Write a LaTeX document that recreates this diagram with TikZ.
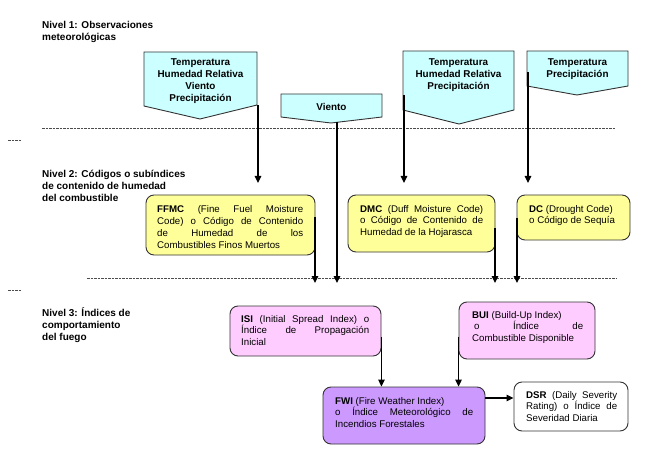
\documentclass[tikz,border=0pt]{standalone}
\usepackage{fontspec}
\setmainfont{Liberation Sans}
\usetikzlibrary{arrows.meta}
\definecolor{callfill}{HTML}{CCFFFF}
\definecolor{yelfill}{HTML}{FFFF99}
\definecolor{pinkfill}{HTML}{FFCCFF}
\definecolor{purpfill}{HTML}{CC99FF}
\definecolor{edge}{HTML}{333333}
\newcommand\jline[1]{\makebox[\linewidth][s]{#1}}
\tikzset{
  callout/.style={draw=edge, line width=0.9pt, fill=callfill, line join=miter},
  boxnode/.style={draw=edge, line width=0.9pt, rounded corners=8pt, inner sep=0pt},
  txt/.style={inner sep=0pt, anchor=base west, font=\fontsize{9.7}{11.8}\selectfont},
  calltxt/.style={inner sep=0pt, anchor=base, font=\fontsize{9.9}{11.8}\selectfont\bfseries},
  lvltxt/.style={inner sep=0pt, anchor=base west, font=\fontsize{10}{12}\selectfont\bfseries},
  arr/.style={line width=1.1pt, -{Triangle[width=6.5pt,length=7pt]}},
  sep/.style={draw=black!70, line width=0.6pt, dash pattern=on 2.5pt off 1pt}
}
\begin{document}
\begin{tikzpicture}[x=1pt,y=-1pt]
\useasboundingbox (0,0) rectangle (661,457);

% separators
\draw[sep] (42,128) -- (616,128);
\draw[sep] (87,278) -- (616,278);
\draw[sep] (8,140) -- (22,140);
\draw[sep] (8,290) -- (22,290);

% level labels
\node[lvltxt] (n1) at (42,29) {\parbox[t]{200pt}{Nivel 1: Observaciones\\meteorológicas}};
\node[lvltxt] (n2) at (42,178) {\parbox[t]{200pt}{Nivel 2: Códigos o subíndices\\de contenido de humedad\\del combustible}};
\node[lvltxt] (n3) at (42,316) {\parbox[t]{200pt}{Nivel 3: Índices de\\comportamiento\\del fuego}};

% callouts
\draw[callout] (144,52) -- (257,52) -- (257,105) -- (200,119) -- (144,106) -- cycle;
\node[calltxt] (c1) at (200.5,66) {\parbox[t]{120pt}{\centering Temperatura\\Humedad Relativa\\Viento\\Precipitación}};
\draw[callout] (281,94) -- (382,94) -- (382,117) -- (331,123) -- (281,117) -- cycle;
\node[calltxt] (c2) at (331.5,111) {\parbox[t]{100pt}{\centering Viento}};
\draw[callout] (403,51) -- (514,51) -- (514,110) -- (459,124) -- (403,110) -- cycle;
\node[calltxt] (c3) at (458.5,66) {\parbox[t]{120pt}{\centering Temperatura\\Humedad Relativa\\Precipitación}};
\draw[callout] (527,51) -- (628,51) -- (628,86) -- (577,95) -- (527,86) -- cycle;
\node[calltxt] (c4) at (577.5,66) {\parbox[t]{100pt}{\centering Temperatura\\Precipitación}};

\coordinate (c1s) at (258,105);
\coordinate (c2s) at (337,122);
\coordinate (c3s) at (404,95);
\coordinate (c4s) at (528,72);

% level 2 boxes
\node[boxnode, fill=yelfill, minimum width=169pt, minimum height=60pt] (ffmc) at (230.5,225) {};
\node[txt] (ffmct) at (157,213) {\parbox[t]{146pt}{%
\jline{\textbf{FFMC} (Fine Fuel Moisture}\\
\jline{Code) o Código de Contenido}\\
\jline{de Humedad de los}\\
Combustibles Finos Muertos}};
\node[boxnode, fill=yelfill, minimum width=147pt, minimum height=57pt] (dmc) at (421.5,223.5) {};
\node[txt] (dmct) at (360,212) {\parbox[t]{123pt}{%
\jline{\textbf{DMC} (Duff Moisture Code)}\\
\jline{o Código de Contenido de}\\
Humedad de la Hojarasca}};
\node[boxnode, fill=yelfill, minimum width=113pt, minimum height=45pt] (dc) at (573.5,217.5) {};
\node[txt] (dct) at (529,212) {\parbox[t]{95pt}{%
\textbf{DC} (Drought Code)\\
o Código de Sequía}};

% level 3 boxes
\node[boxnode, fill=pinkfill, minimum width=151pt, minimum height=50pt] (isi) at (305.5,331) {};
\node[txt] (isit) at (241,322) {\parbox[t]{128pt}{%
\jline{\textbf{ISI} (Initial Spread Index) o}\\
\jline{Índice de Propagación}\\
Inicial}};
\node[boxnode, fill=pinkfill, minimum width=136pt, minimum height=57pt] (bui) at (527,330.5) {};
\node[txt] (buit) at (472,318) {\parbox[t]{111pt}{%
\textbf{BUI} (Build-Up Index)\\
\jline{\hspace*{2pt}o Índice de}\\
Combustible Disponible}};
\node[boxnode, fill=purpfill, minimum width=162pt, minimum height=57pt] (fwi) at (404,415.5) {};
\node[txt] (fwit) at (335,404) {\parbox[t]{138pt}{%
\textbf{FWI} (Fire Weather Index)\\
\jline{o Índice Meteorológico de}\\
Incendios Forestales}};
\node[boxnode, fill=white, minimum width=114pt, minimum height=49pt] (dsr) at (571,406.5) {};
\node[txt] (dsrt) at (526,398) {\parbox[t]{91pt}{%
\jline{\textbf{DSR} (Daily Severity}\\
\jline{Rating) o Índice de}\\
Severidad Diaria}};

% connectors
\coordinate (ffmcs) at (315,217);
\coordinate (dmcs) at (495,228);
\coordinate (dcs) at (517,218);
\coordinate (isis) at ([yshift=-6pt]isi.east);
\coordinate (buis) at ([yshift=-6pt]bui.west);
\coordinate (fwis) at ([yshift=17.5pt]fwi.east);
\draw[arr] (c1s) -- (c1s |- 0,183);
\draw[arr] (c3s) -- (c3s |- 0,183);
\draw[arr] (c4s) -- (c4s |- 0,183);
\draw[arr] (c2s) -- (c2s |- 0,283);
\draw[arr] (ffmcs) -- (ffmcs |- 0,283);
\draw[arr] (dmcs) -- (dmcs |- 0,283);
\draw[arr] (dcs) -- (dcs |- 0,283);
\draw[arr] (isis) -- (isis |- fwi.north);
\draw[arr] (buis) -- (buis |- fwi.north);
\draw[arr] (fwis) -- (fwis -| dsr.west);
\end{tikzpicture}
\end{document}
